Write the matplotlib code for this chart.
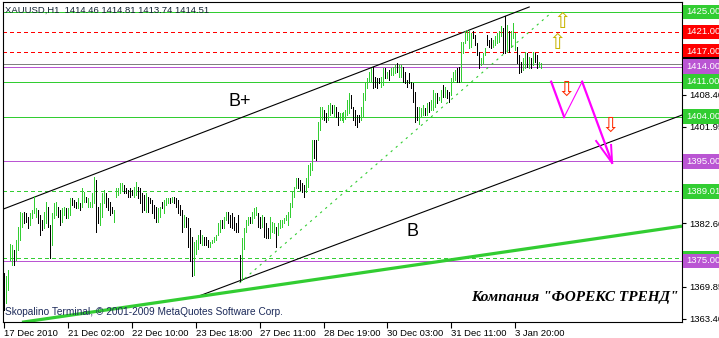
import numpy as np
import matplotlib
matplotlib.use("Agg")
import matplotlib.pyplot as plt
from matplotlib import transforms

# XAUUSD H1 bars, bar 0 = 17 Dec 2010
highs = [
    1372.5, 1372.0, 1373.2, 1378.5, 1378.2, 1377.2, 1379.2, 1381.9, 1384.9, 1384.6,
    1384.9, 1384.6, 1383.9, 1384.6, 1385.2, 1388.1, 1385.6, 1385.2, 1384.2, 1383.2,
    1384.9, 1386.9, 1385.9, 1382.2, 1384.6, 1386.6, 1386.9, 1385.9, 1385.2, 1385.6,
    1385.9, 1385.6, 1385.6, 1387.6, 1387.6, 1387.2, 1386.9, 1387.6, 1386.6, 1389.6,
    1388.9, 1387.9, 1387.6, 1386.9, 1388.6, 1391.9, 1391.3, 1385.9, 1386.6, 1388.6,
    1389.3, 1388.6, 1387.6, 1386.9, 1385.9, 1385.2, 1389.6, 1389.6, 1390.6, 1390.6,
    1390.3, 1389.6, 1389.3, 1389.6, 1389.3, 1389.9, 1390.9, 1389.9, 1389.6, 1388.6,
    1388.2, 1388.6, 1387.9, 1387.6, 1387.2, 1386.2, 1385.9, 1385.6, 1385.9, 1386.9,
    1387.2, 1387.6, 1387.6, 1387.6, 1387.9, 1387.9, 1387.6, 1387.2, 1386.2, 1385.2,
    1384.2, 1383.9, 1383.6, 1381.6, 1379.9, 1378.9, 1379.2, 1380.2, 1381.2, 1380.2,
    1379.9, 1379.9, 1379.2, 1378.9, 1379.2, 1379.9, 1380.2, 1382.6, 1383.2, 1383.2,
    1383.9, 1384.9, 1384.9, 1384.2, 1384.6, 1383.9, 1382.6, 1384.2, 1376.2, 1379.6,
    1381.6, 1383.2, 1383.9, 1383.9, 1384.9, 1385.6, 1385.9, 1384.6, 1383.9, 1384.2,
    1383.9, 1382.6, 1381.6, 1383.9, 1382.9, 1382.6, 1381.9, 1382.6, 1383.2, 1383.2,
    1383.6, 1384.2, 1384.9, 1386.6, 1388.9, 1389.9, 1391.6, 1391.6, 1391.3, 1390.6,
    1390.3, 1391.6, 1394.3, 1394.6, 1399.3, 1399.3, 1399.3, 1403.0, 1406.0, 1406.0,
    1405.3, 1404.7, 1406.3, 1406.7, 1406.3, 1406.3, 1406.0, 1405.0, 1404.7, 1404.7,
    1405.0, 1405.3, 1407.3, 1408.7, 1408.3, 1406.0, 1405.3, 1404.3, 1404.3, 1406.0,
    1408.7, 1410.7, 1411.7, 1413.0, 1413.7, 1414.0, 1412.0, 1411.7, 1411.7, 1412.0,
    1413.7, 1413.7, 1413.0, 1413.4, 1413.7, 1414.0, 1414.4, 1414.7, 1414.4, 1414.4,
    1414.0, 1413.0, 1411.4, 1412.7, 1411.0, 1410.7, 1409.0, 1406.0, 1406.0, 1405.7,
    1406.3, 1405.7, 1406.7, 1407.0, 1407.3, 1409.3, 1408.7, 1408.7, 1408.0, 1409.3,
    1410.3, 1410.0, 1409.3, 1409.0, 1411.7, 1413.0, 1413.4, 1413.7, 1414.0, 1419.0,
    1419.0, 1421.1, 1421.4, 1421.1, 1420.7, 1421.1, 1420.4, 1418.7, 1417.0, 1415.7,
    1416.7, 1417.7, 1420.4, 1419.4, 1419.7, 1419.4, 1420.1, 1420.7, 1421.1, 1422.1,
    1421.7, 1424.1, 1422.4, 1421.1, 1421.1, 1422.7, 1420.7, 1418.0, 1416.4, 1415.0,
    1415.7, 1417.0, 1416.7, 1416.0, 1415.7, 1417.0, 1416.7, 1416.4, 1415.0, 1414.81,
]
lows = [
    1365.2, 1366.5, 1369.2, 1375.2, 1374.2, 1374.2, 1375.2, 1377.2, 1379.2, 1381.9,
    1382.6, 1382.9, 1381.6, 1382.2, 1383.6, 1384.6, 1383.9, 1382.6, 1380.2, 1381.2,
    1381.6, 1382.6, 1381.9, 1375.5, 1378.2, 1383.6, 1384.2, 1383.9, 1382.2, 1382.9,
    1384.2, 1383.6, 1383.6, 1384.2, 1386.2, 1385.9, 1385.6, 1385.6, 1385.2, 1385.9,
    1386.9, 1386.9, 1385.9, 1385.9, 1385.9, 1386.6, 1380.9, 1382.6, 1382.2, 1383.9,
    1386.6, 1385.9, 1385.2, 1384.2, 1384.6, 1382.9, 1387.9, 1388.2, 1388.6, 1389.3,
    1388.6, 1388.6, 1387.9, 1387.9, 1388.3, 1387.9, 1388.3, 1387.6, 1386.6, 1384.9,
    1385.2, 1384.9, 1384.9, 1386.6, 1384.6, 1383.6, 1382.9, 1382.9, 1383.9, 1385.6,
    1384.6, 1386.2, 1386.6, 1386.6, 1386.9, 1386.6, 1385.9, 1384.6, 1384.2, 1380.9,
    1381.9, 1381.9, 1377.9, 1374.9, 1371.9, 1372.2, 1376.5, 1377.5, 1378.6, 1378.2,
    1378.2, 1378.2, 1377.9, 1377.9, 1378.6, 1378.9, 1379.2, 1380.2, 1380.9, 1381.6,
    1381.6, 1383.2, 1382.6, 1381.9, 1381.6, 1381.2, 1380.9, 1380.9, 1370.9, 1371.2,
    1377.5, 1380.9, 1382.2, 1382.6, 1382.6, 1383.6, 1384.2, 1381.9, 1381.6, 1381.9,
    1379.9, 1379.6, 1379.6, 1379.6, 1380.9, 1380.6, 1377.9, 1380.2, 1381.6, 1381.9,
    1382.6, 1383.2, 1382.2, 1383.9, 1385.9, 1387.9, 1389.6, 1389.6, 1389.3, 1388.9,
    1387.9, 1388.9, 1389.9, 1392.3, 1393.3, 1395.6, 1395.3, 1399.3, 1401.3, 1403.6,
    1403.3, 1403.0, 1403.3, 1404.3, 1404.7, 1404.0, 1404.0, 1402.3, 1403.3, 1403.3,
    1403.0, 1403.6, 1404.3, 1404.7, 1405.7, 1403.3, 1402.3, 1402.0, 1403.0, 1403.3,
    1404.0, 1407.3, 1409.7, 1411.0, 1411.0, 1409.7, 1410.0, 1409.7, 1410.7, 1410.0,
    1410.3, 1411.7, 1411.7, 1411.4, 1412.4, 1412.4, 1412.7, 1413.0, 1412.0, 1412.0,
    1411.0, 1410.7, 1410.0, 1410.7, 1409.7, 1407.0, 1403.0, 1403.3, 1402.6, 1404.0,
    1404.3, 1404.3, 1404.3, 1405.0, 1405.3, 1405.3, 1406.0, 1406.7, 1407.3, 1407.0,
    1408.0, 1408.0, 1407.7, 1407.0, 1408.3, 1411.0, 1411.4, 1411.0, 1411.0, 1411.0,
    1416.7, 1418.7, 1419.4, 1417.7, 1418.0, 1419.7, 1418.4, 1416.4, 1413.7, 1414.4,
    1414.7, 1416.4, 1418.4, 1418.0, 1417.7, 1418.0, 1418.4, 1418.7, 1419.0, 1420.1,
    1416.7, 1416.7, 1417.0, 1417.0, 1418.0, 1419.7, 1417.4, 1414.7, 1412.7, 1413.0,
    1413.4, 1413.7, 1414.0, 1413.7, 1413.7, 1414.4, 1415.0, 1413.7, 1414.0, 1413.74,
]
# 1 = up bar (green), 0 = down bar (black)
bull = [
    0, 1, 1, 1, 1, 0, 1, 1, 1, 1,  0, 0, 0, 1, 1, 1, 1, 0, 0, 0,
    1, 1, 0, 0, 1, 1, 1, 0, 0, 1,  1, 0, 1, 1, 0, 0, 0, 1, 0, 1,
    1, 0, 1, 1, 1, 1, 0, 0, 1, 1,  1, 0, 0, 0, 0, 1, 1, 1, 1, 1,
    0, 0, 0, 0, 0, 1, 1, 0, 0, 0,  0, 1, 0, 0, 0, 0, 0, 1, 1, 0,
    1, 1, 1, 0, 1, 0, 0, 0, 0, 0,  1, 0, 0, 0, 0, 1, 1, 1, 0, 1,
    0, 0, 0, 1, 1, 1, 1, 1, 1, 0,  1, 1, 0, 0, 0, 0, 0, 0, 0, 1,
    1, 1, 1, 0, 1, 1, 1, 0, 0, 1,  0, 0, 0, 1, 1, 1, 0, 1, 1, 1,
    1, 1, 1, 1, 1, 1, 1, 0, 0, 0,  0, 1, 1, 1, 1, 0, 0, 1, 1, 1,
    0, 0, 1, 1, 0, 1, 0, 0, 1, 1,  1, 1, 1, 1, 0, 0, 0, 0, 0, 1,
    1, 1, 1, 1, 1, 0, 0, 0, 0, 1,  1, 0, 1, 0, 1, 1, 1, 0, 1, 1,
    0, 0, 0, 0, 0, 0, 0, 0, 1, 1,  1, 0, 1, 0, 1, 1, 1, 0, 1, 1,
    0, 1, 0, 0, 1, 1, 1, 0, 0, 1,  1, 1, 1, 1, 1, 0, 0, 0, 0, 1,
    1, 1, 0, 0, 0, 1, 1, 1, 1, 1,  0, 0, 1, 0, 1, 1, 1, 0, 0, 0,
    1, 1, 0, 1, 0, 1, 0, 0, 1, 1,
]

tick_bars = [0, 32, 64, 96, 128, 160, 192, 224, 256]
tick_labels = ["17 Dec 2010", "21 Dec 02:00", "22 Dec 10:00", "23 Dec 18:00",
               "27 Dec 11:00", "28 Dec 19:00", "30 Dec 03:00", "31 Dec 11:00",
               "3 Jan 20:00"]

# horizontal levels
green_levels = [1425.0, 1411.0, 1404.0]
red_levels = [1421.0, 1417.0]
purple_levels = [1414.0, 1395.0, 1375.0]
green_dash_levels = [1389.01, 1375.6]
bid = 1414.51
plain_ticks = [1408.40, 1401.95, 1382.60, 1369.85, 1363.40]

# trend lines: (bar index pair, price pair)
upper_x, upper_y = [-0.5, 263], [1385.4, 1426.0]
lower_x, lower_y = [96.5, 339.5], [1367.8, 1404.3]
fast_x, fast_y = [118, 274.5], [1370.6, 1425.0]
supp_x, supp_y = [9, 339.5], [1362.7, 1382.0]

# forecast path
path_x = [274, 280.5, 289.5, 304.5]
path_y = [1411.0, 1403.9, 1411.0, 1394.7]
head_x = [296.5, 304.5, 304.0]
head_y = [1399.1, 1394.7, 1398.3]

up_arrows_x, up_arrows_y = [279.5, 277], [1423.0, 1418.8]
dn_arrows_x, dn_arrows_y = [281.5, 303.5], [1409.3, 1402.1]

GREEN = "#32cd32"
PURPLE = "#ba55d3"
SMALL = dict(family="Liberation Sans", fontsize=6.8)
PX = 0.72  # one pixel at 100 dpi

fig = plt.figure(figsize=(7.19, 3.38), dpi=100)
ax = fig.add_axes([3 / 719, 16 / 338, 679 / 719, 320 / 338])
ax.set_xlim(-0.5, 339.5)
ax.set_ylim(1362.75, 1427.0)

for y in green_levels:
    ax.axhline(y, color=GREEN, lw=PX, antialiased=False)
for y in red_levels:
    ax.axhline(y, color="red", lw=PX, ls=(0, (4, 4)), antialiased=False)
for y in green_dash_levels:
    ax.axhline(y, color=GREEN, lw=PX, ls=(0, (4, 4)), antialiased=False)
ax.axhline(bid, color="#808080", lw=PX, antialiased=False)
for y in purple_levels:
    ax.axhline(y, color=PURPLE, lw=PX, antialiased=False)

ax.plot(upper_x, upper_y, color="black", lw=0.8)
ax.plot(lower_x, lower_y, color="black", lw=0.8)
ax.plot(fast_x, fast_y, color=GREEN, lw=0.8, ls=(0, (2, 4)))
ax.plot(supp_x, supp_y, color=GREEN, lw=2.3, solid_capstyle="butt")

x = np.arange(len(highs))
cols = [GREEN if b else "black" for b in bull]
ax.vlines(x, lows, highs, colors=cols, lw=PX, antialiased=False)

# magenta forecast
ax.plot(path_x[:2], path_y[:2], color="magenta", lw=1.6)
ax.plot(path_x[1:3], path_y[1:3], color="magenta", lw=0.8)
ax.plot(path_x[2:], path_y[2:], color="magenta", lw=1.6)
ax.plot(head_x, head_y, color="magenta", lw=1.4)

for ax_, ay in zip(up_arrows_x, up_arrows_y):
    ax.text(ax_, ay, "\u21e7", color="#c8b400", fontsize=15, ha="center", va="center")
for ax_, ay in zip(dn_arrows_x, dn_arrows_y):
    ax.text(ax_, ay, "\u21e9", color="#ff2a00", fontsize=15, ha="center", va="center")

# axes styling
for s in ax.spines.values():
    s.set_color("black")
    s.set_linewidth(0.8)
ax.yaxis.tick_right()
ax.set_yticks(plain_ticks)
ax.set_yticklabels(["%.2f" % v for v in plain_ticks], **SMALL)
ax.tick_params(axis="y", direction="out", length=3, pad=2)
ax.set_xticks(tick_bars)
ax.set_xticklabels(tick_labels, **SMALL)
ax.tick_params(axis="x", direction="out", length=4, pad=1)
for lbl in ax.get_xticklabels():
    lbl.set_horizontalalignment("left")

# price boxes on the right
tr = transforms.blended_transform_factory(ax.transAxes, ax.transData)
boxes = [(1425.0, GREEN), (1421.0, "red"), (1417.0, "red"), (bid, "black"),
         (1414.0, PURPLE), (1411.0, GREEN), (1404.0, GREEN), (1395.0, PURPLE),
         (1389.01, GREEN), (1375.6, GREEN), (1375.0, PURPLE)]
for v, c in boxes:
    ax.text(1.006, v, "%.2f" % v, transform=tr, color="white", va="center",
            ha="left", clip_on=False, **SMALL,
            bbox=dict(boxstyle="square,pad=0.3", fc=c, ec="none"))

fig.text(5 / 719, 1 - 10 / 338, "XAUUSD,H1  1414.46 1414.81 1413.74 1414.51",
         color="#102030", va="center", **SMALL)
fig.text(5 / 719, 1 - 312 / 338,
         "Skopalino Terminal, \u00a9 2001-2009 MetaQuotes Software Corp.",
         color="#1c2a5a", va="center", family="Liberation Sans", fontsize=7.3)
fig.text(229 / 719, 1 - 102 / 338, "B+", fontsize=13, family="Liberation Sans", va="center")
fig.text(407 / 719, 1 - 232 / 338, "B", fontsize=13, family="Liberation Sans", va="center")
fig.text(575 / 719, 1 - 298 / 338, "Компания \"ФОРЕКС ТРЕНД\"", fontsize=11,
         family="Liberation Serif", style="italic", weight="bold", ha="center", va="center")

fig.savefig("out.png", dpi=100)
